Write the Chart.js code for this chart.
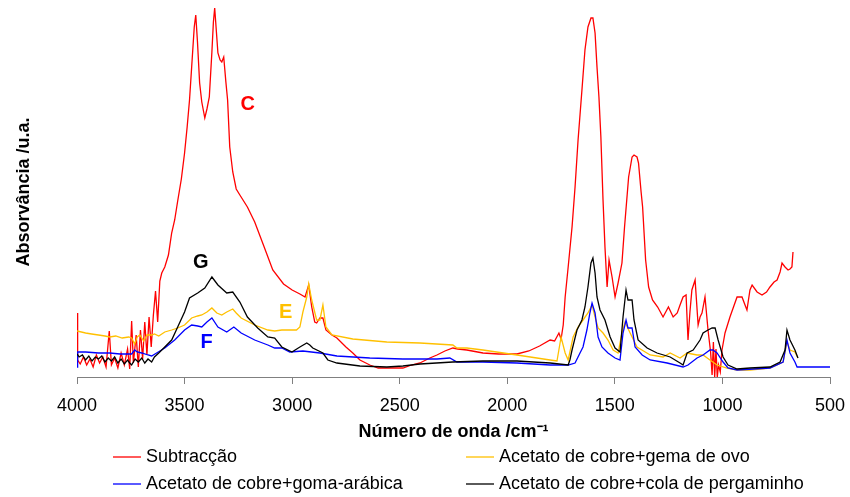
<!DOCTYPE html>
<html>
<head>
<meta charset="utf-8">
<script src="https://cdn.jsdelivr.net/npm/chart.js@4"></script>
<style>
  body { margin: 0; background: #fff; }
  #wrap { width: 850px; height: 497px; }
</style>
</head>
<body>
<div id="wrap"><canvas id="spectra"></canvas></div>
<script>
// wavenumbers (cm-1) and absorbance (a.u.)
const redWn = [4000, 3997, 3985, 3970, 3955, 3940, 3925, 3910, 3895, 3880, 3865, 3850, 3840, 3825, 3810, 3795, 3780, 3765, 3755, 3746, 3738, 3725, 3715, 3705, 3695, 3685, 3675, 3665, 3655, 3645, 3635, 3625, 3615, 3606, 3592, 3575, 3560, 3546, 3532, 3515, 3500, 3488, 3477, 3467, 3455, 3448, 3440, 3430, 3420, 3406, 3396, 3385, 3373, 3366, 3360, 3352, 3345, 3335, 3327, 3318, 3308, 3300, 3290, 3276, 3260, 3243, 3208, 3174, 3130, 3090, 3040, 3000, 2964, 2940, 2923, 2909, 2895, 2886, 2871, 2857, 2843, 2815, 2792, 2750, 2718, 2685, 2639, 2600, 2560, 2520, 2485, 2445, 2406, 2360, 2327, 2290, 2253, 2230, 2188, 2113, 2040, 1955, 1900, 1850, 1801, 1780, 1760, 1750, 1740, 1731, 1717, 1699, 1685, 1671, 1653, 1639, 1625, 1611, 1602, 1592, 1583, 1574, 1565, 1555, 1546, 1536, 1527, 1513, 1499, 1485, 1467, 1455, 1436, 1420, 1411, 1397, 1390, 1378, 1371, 1357, 1343, 1325, 1301, 1276, 1251, 1229, 1210, 1197, 1183, 1169, 1160, 1151, 1142, 1127, 1113, 1104, 1095, 1081, 1067, 1055, 1048, 1042, 1036, 1030, 1024, 1018, 1010, 1002, 988, 965, 932, 909, 895, 886, 872, 862, 839, 816, 795, 779, 760, 746, 732, 723, 709, 695, 686, 677, 672];
const redAbs = [0.64, 0.17, 0.13, 0.20, 0.12, 0.18, 0.10, 0.22, 0.14, 0.20, 0.10, 0.46, 0.12, 0.19, 0.09, 0.24, 0.12, 0.28, 0.08, 0.56, 0.14, 0.42, 0.10, 0.47, 0.18, 0.55, 0.22, 0.60, 0.30, 0.62, 0.86, 0.55, 0.96, 1.04, 1.10, 1.22, 1.44, 1.57, 1.76, 1.98, 2.24, 2.50, 2.77, 3.10, 3.50, 3.62, 3.35, 2.94, 2.75, 2.59, 2.68, 2.80, 3.25, 3.55, 3.69, 3.45, 3.24, 3.17, 3.15, 3.20, 2.95, 2.77, 2.30, 2.05, 1.88, 1.82, 1.70, 1.55, 1.30, 1.07, 0.93, 0.87, 0.83, 0.80, 0.92, 0.70, 0.55, 0.54, 0.59, 0.59, 0.47, 0.42, 0.39, 0.30, 0.24, 0.17, 0.12, 0.09, 0.09, 0.09, 0.09, 0.12, 0.14, 0.19, 0.22, 0.26, 0.29, 0.28, 0.27, 0.24, 0.23, 0.23, 0.26, 0.31, 0.37, 0.36, 0.44, 0.38, 0.52, 0.80, 1.10, 1.50, 1.90, 2.37, 2.87, 3.27, 3.50, 3.59, 3.59, 3.44, 3.10, 2.80, 2.40, 1.77, 1.30, 0.90, 1.17, 1.00, 0.80, 0.94, 1.14, 1.50, 2.00, 2.20, 2.22, 2.20, 2.14, 1.85, 1.70, 1.17, 0.90, 0.77, 0.70, 0.60, 0.70, 0.60, 0.64, 0.72, 0.80, 0.82, 0.37, 0.65, 0.87, 0.97, 0.52, 0.60, 0.64, 0.80, 0.47, 0.25, 0.02, 0.35, 0.00, 0.28, 0.00, 0.12, 0.05, 0.27, 0.44, 0.60, 0.80, 0.80, 0.72, 0.67, 0.87, 0.92, 0.85, 0.82, 0.85, 0.90, 0.95, 0.97, 1.05, 1.14, 1.10, 1.07, 1.08, 1.10, 1.25];

const yellowWn = [4000, 3960, 3932, 3900, 3870, 3848, 3820, 3790, 3760, 3746, 3732, 3720, 3708, 3690, 3675, 3653, 3640, 3620, 3592, 3560, 3532, 3500, 3467, 3439, 3420, 3396, 3373, 3350, 3327, 3304, 3276, 3260, 3237, 3174, 3113, 3081, 3048, 3011, 2980, 2964, 2950, 2932, 2923, 2909, 2886, 2871, 2857, 2843, 2815, 2718, 2560, 2406, 2253, 2234, 2188, 2113, 1955, 1801, 1769, 1750, 1731, 1717, 1694, 1671, 1648, 1625, 1606, 1592, 1578, 1555, 1532, 1508, 1485, 1467, 1453, 1429, 1397, 1336, 1276, 1243, 1197, 1164, 1118, 1090, 1058, 1025, 979, 932, 872, 779, 718, 700, 686, 663, 649];
const yellowAbs = [0.46, 0.44, 0.43, 0.42, 0.41, 0.40, 0.41, 0.39, 0.40, 0.39, 0.33, 0.40, 0.42, 0.36, 0.42, 0.42, 0.43, 0.41, 0.45, 0.47, 0.49, 0.52, 0.59, 0.61, 0.62, 0.65, 0.69, 0.64, 0.62, 0.65, 0.68, 0.64, 0.59, 0.52, 0.47, 0.46, 0.47, 0.47, 0.47, 0.50, 0.65, 0.80, 0.93, 0.77, 0.57, 0.57, 0.72, 0.50, 0.42, 0.38, 0.35, 0.34, 0.32, 0.29, 0.29, 0.27, 0.22, 0.17, 0.16, 0.40, 0.24, 0.17, 0.40, 0.50, 0.57, 0.64, 0.72, 0.60, 0.49, 0.44, 0.37, 0.27, 0.24, 0.44, 0.55, 0.44, 0.30, 0.22, 0.20, 0.24, 0.19, 0.24, 0.22, 0.22, 0.17, 0.12, 0.09, 0.07, 0.07, 0.09, 0.15, 0.35, 0.27, 0.25, 0.19];

const blueWn = [4000, 3997, 3960, 3900, 3848, 3800, 3760, 3746, 3732, 3720, 3699, 3670, 3653, 3630, 3592, 3546, 3500, 3467, 3439, 3420, 3396, 3373, 3345, 3304, 3271, 3237, 3174, 3113, 3081, 3048, 3011, 2950, 2871, 2792, 2639, 2485, 2327, 2267, 2234, 2174, 2113, 1955, 1801, 1717, 1685, 1662, 1648, 1630, 1616, 1606, 1592, 1578, 1560, 1532, 1499, 1476, 1462, 1448, 1439, 1420, 1406, 1373, 1336, 1257, 1183, 1160, 1118, 1090, 1058, 1044, 1025, 997, 974, 932, 779, 718, 700, 686, 663, 653, 500];
const blueAbs = [0.10, 0.25, 0.25, 0.24, 0.24, 0.23, 0.23, 0.23, 0.27, 0.25, 0.24, 0.22, 0.21, 0.24, 0.29, 0.37, 0.47, 0.52, 0.51, 0.50, 0.55, 0.59, 0.50, 0.45, 0.50, 0.44, 0.37, 0.32, 0.29, 0.29, 0.25, 0.26, 0.24, 0.21, 0.19, 0.18, 0.18, 0.19, 0.15, 0.15, 0.15, 0.14, 0.12, 0.12, 0.14, 0.24, 0.30, 0.47, 0.64, 0.74, 0.64, 0.40, 0.30, 0.24, 0.19, 0.17, 0.44, 0.57, 0.49, 0.49, 0.30, 0.22, 0.17, 0.14, 0.10, 0.12, 0.19, 0.22, 0.27, 0.27, 0.24, 0.15, 0.09, 0.07, 0.09, 0.15, 0.37, 0.24, 0.15, 0.10, 0.10];

const blackWn = [4000, 3990, 3975, 3960, 3945, 3930, 3915, 3900, 3885, 3870, 3855, 3840, 3825, 3810, 3795, 3780, 3765, 3755, 3746, 3730, 3715, 3699, 3685, 3670, 3653, 3640, 3620, 3606, 3560, 3532, 3500, 3477, 3439, 3406, 3373, 3345, 3304, 3276, 3243, 3208, 3160, 3113, 3081, 3048, 3001, 2964, 2932, 2918, 2904, 2857, 2834, 2792, 2685, 2560, 2485, 2406, 2253, 2113, 1955, 1801, 1717, 1709, 1699, 1676, 1653, 1639, 1625, 1611, 1602, 1592, 1583, 1569, 1546, 1522, 1499, 1476, 1462, 1448, 1439, 1420, 1411, 1392, 1350, 1304, 1243, 1197, 1183, 1164, 1136, 1104, 1090, 1067, 1048, 1034, 1020, 997, 974, 932, 872, 779, 732, 709, 700, 686, 663, 649];
const blackAbs = [0.23, 0.20, 0.22, 0.17, 0.21, 0.16, 0.20, 0.18, 0.21, 0.15, 0.19, 0.16, 0.20, 0.14, 0.18, 0.13, 0.17, 0.14, 0.12, 0.18, 0.15, 0.19, 0.14, 0.18, 0.15, 0.20, 0.24, 0.27, 0.37, 0.50, 0.65, 0.79, 0.84, 0.89, 1.00, 0.92, 0.84, 0.85, 0.75, 0.60, 0.49, 0.40, 0.39, 0.30, 0.25, 0.30, 0.34, 0.32, 0.29, 0.24, 0.17, 0.14, 0.11, 0.10, 0.11, 0.13, 0.15, 0.16, 0.16, 0.14, 0.12, 0.17, 0.27, 0.47, 0.57, 0.70, 0.90, 1.14, 1.19, 1.04, 0.80, 0.67, 0.57, 0.40, 0.29, 0.25, 0.60, 0.87, 0.77, 0.77, 0.57, 0.37, 0.29, 0.24, 0.20, 0.14, 0.12, 0.24, 0.27, 0.37, 0.44, 0.47, 0.49, 0.49, 0.37, 0.20, 0.12, 0.08, 0.09, 0.10, 0.15, 0.27, 0.47, 0.37, 0.27, 0.19];

const xTicks = [4000, 3500, 3000, 2500, 2000, 1500, 1000, 500];

// letters written next to the curves
const tagText = ['C', 'G', 'E', 'F'];
const tagWn = [3207, 3425, 3030, 3397];
const tagAbs = [2.73, 1.15, 0.65, 0.35];
const tagColor = ['#ff0000', '#000000', '#ffc000', '#0000ff'];

const FONT = "'Liberation Sans', Arial, sans-serif";

function toPoints(wn, abs) {
    return wn.map((x, i) => ({ x, y: abs[i] }));
}

const series = [
    { label: 'Subtracção', color: '#ff0000', data: toPoints(redWn, redAbs), order: 4 },
    { label: 'Acetato de cobre+gema de ovo', color: '#ffc000', data: toPoints(yellowWn, yellowAbs), order: 3 },
    { label: 'Acetato de cobre+goma-arábica', color: '#0000ff', data: toPoints(blueWn, blueAbs), order: 2 },
    { label: 'Acetato de cobre+cola de pergaminho', color: '#000000', data: toPoints(blackWn, blackAbs), order: 1 },
];

// letters C, G, E, F
const tagPlugin = {
    id: 'tags',
    afterDatasetsDraw(chart) {
        const ctx = chart.ctx;
        const x = chart.scales.x, y = chart.scales.y;
        ctx.save();
        ctx.font = 'bold 20px ' + FONT;
        ctx.textAlign = 'center';
        ctx.textBaseline = 'middle';
        tagText.forEach((t, i) => {
            ctx.fillStyle = tagColor[i];
            ctx.fillText(t, x.getPixelForValue(tagWn[i]), y.getPixelForValue(tagAbs[i]));
        });
        ctx.restore();
    }
};

// legend in two columns, like the original
const legendPlugin = {
    id: 'twoColLegend',
    afterDraw(chart) {
        const ctx = chart.ctx;
        const cols = [113, 466];
        const rows = [457, 484];
        ctx.save();
        ctx.font = '18px ' + FONT;
        ctx.textBaseline = 'middle';
        ctx.textAlign = 'left';
        chart.data.datasets.forEach((ds, i) => {
            const lx = cols[i % 2];
            const ly = rows[Math.floor(i / 2)];
            ctx.strokeStyle = ds.borderColor;
            ctx.lineWidth = 1.3;
            ctx.beginPath();
            ctx.moveTo(lx, ly);
            ctx.lineTo(lx + 28, ly);
            ctx.stroke();
            ctx.fillStyle = '#000';
            ctx.fillText(ds.label, lx + 33, ly);
        });
        ctx.restore();
    }
};

new Chart(document.getElementById('spectra'), {
    type: 'line',
    data: {
        datasets: series.map(s => ({
            label: s.label,
            data: s.data,
            borderColor: s.color,
            backgroundColor: s.color,
            order: s.order,
        }))
    },
    options: {
        responsive: true,
        maintainAspectRatio: false,
        animation: false,
        parsing: false,
        layout: { padding: { top: 7, right: 20, bottom: 54, left: 0 } },
        elements: {
            point: { radius: 0 },
            line: { borderWidth: 1.3, tension: 0 }
        },
        plugins: {
            legend: { display: false },
            tooltip: { enabled: false }
        },
        scales: {
            x: {
                type: 'linear',
                reverse: true,
                min: 500,
                max: 4000,
                afterBuildTicks: scale => { scale.ticks = xTicks.map(v => ({ value: v })); },
                ticks: {
                    color: '#000',
                    font: { family: FONT, size: 18 },
                    padding: 11,
                    maxRotation: 0,
                    callback: v => String(v)
                },
                grid: { display: true, drawOnChartArea: false, drawTicks: true, tickLength: 7, color: '#808080' },
                border: { display: true, color: '#808080' },
                title: {
                    display: true,
                    text: 'Número de onda /cm⁻¹',
                    color: '#000',
                    font: { family: FONT, size: 18, weight: 'bold' },
                    padding: 0
                },
                afterFit: scale => {
                    scale.height = 66;
                    scale.paddingLeft = 20;
                    scale.paddingRight = 0;
                }
            },
            y: {
                min: 0,
                max: 3.7,
                ticks: { display: false },
                grid: { display: false },
                border: { display: false },
                title: {
                    display: true,
                    text: 'Absorvância /u.a.',
                    color: '#000',
                    font: { family: FONT, size: 18, weight: 'bold' },
                    padding: { top: 13, bottom: 0 }
                },
                afterFit: scale => { scale.width = 77; }
            }
        }
    },
    plugins: [tagPlugin, legendPlugin]
});
</script>
</body>
</html>
